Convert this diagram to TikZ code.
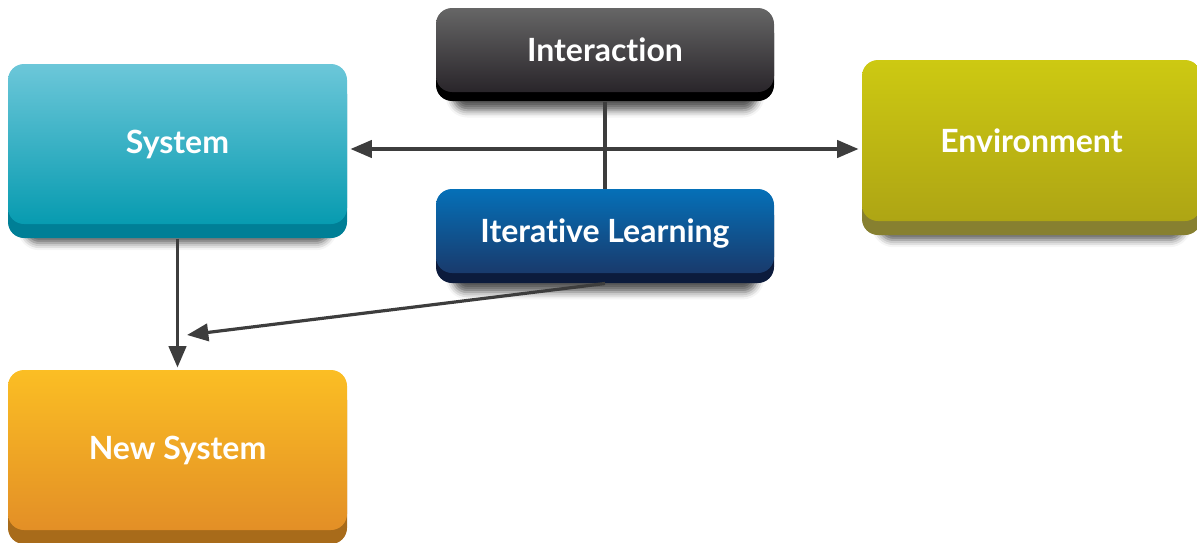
\documentclass[tikz,border=0pt]{standalone}
\usepackage{fontspec}
\setmainfont{Lato}[Ligatures={NoCommon,NoRare}]
\usetikzlibrary{arrows.meta,calc,shadows,shadows.blur}

\definecolor{sysTop}{HTML}{6CC7D9}
\definecolor{sysBot}{HTML}{079BB0}
\definecolor{sysLedge}{HTML}{007F96}
\definecolor{intTop}{HTML}{666666}
\definecolor{intBot}{HTML}{29252A}
\definecolor{intLedge}{HTML}{000000}
\definecolor{iterTop}{HTML}{0570B8}
\definecolor{iterBot}{HTML}{193A6C}
\definecolor{iterLedge}{HTML}{0C1B3C}
\definecolor{envTop}{HTML}{CDC912}
\definecolor{envBot}{HTML}{AEA514}
\definecolor{envLedge}{HTML}{878030}
\definecolor{newTop}{HTML}{FBBE24}
\definecolor{newBot}{HTML}{E38F26}
\definecolor{newLedge}{HTML}{A86B1A}
\definecolor{linkGray}{HTML}{3D3D3D}

\tikzset{every picture/.style={line width=0.75pt}}
\tikzset{
  card/.style n args={4}{
    blur shadow={shadow xshift=0pt, shadow yshift=-#4-12pt, shadow scale=0.9, shadow opacity=65, shadow blur radius=6pt},
    general shadow={fill=#3, shadow scale=1, shadow xshift=0pt, shadow yshift=-#4, opacity=1},
    top color=#1, bottom color=#2, rounded corners=12pt,
    minimum width=254.25pt, inner sep=0pt, text=white,
    font=\bfseries\fontsize{24}{28}\selectfont},
  link/.style={draw=linkGray, line width=2.4pt, >={Triangle[length=16pt,width=13pt]}}
}

\begin{document}
\begin{tikzpicture}[x=0.75pt,y=0.75pt,yscale=-1,xscale=1]
\useasboundingbox (0,0) rectangle (1197,543);

%Rounded Rect
\node [card={sysTop}{sysBot}{sysLedge}{10.5pt}, minimum height=120pt] (System) at (177.5,144) {System};
%Rounded Rect
\node [card={intTop}{intBot}{intLedge}{6.75pt}, minimum height=63pt, minimum width=253.5pt] (Interaction) at (605,50) {Interaction};
%Rounded Rect
\node [card={iterTop}{iterBot}{iterLedge}{7.5pt}, minimum height=63pt, minimum width=253.5pt, text depth=0pt] (Iterative) at (605,231) {Iterative Learning};
%Rounded Rect
\node [card={envTop}{envBot}{envLedge}{10.5pt}, minimum height=120.75pt] (Environment) at (1031.5,140.5) {Environment};
%Rounded Rect
\node [card={newTop}{newBot}{newLedge}{10.5pt}, minimum height=120pt] (NewSystem) at (177.5,450) {New System};

\coordinate (meet) at (187,335);

%Straight Lines
\draw [link, <->] ($(System.east)+(3,5)$) -- ($(System.east -| Environment.west)+(-3,5)$);
%Straight Lines
\draw [link] ($(Interaction.south)+(0,9)$) -- (Iterative.north);
%Straight Lines
\draw [link, ->] ($(System.south)+(0,14)$) -- ($(NewSystem.north)+(0,-2)$);
%Straight Lines
\draw [link, ->] ($(Iterative.south)+(0,10)$) -- (meet);

\end{tikzpicture}
\end{document}
